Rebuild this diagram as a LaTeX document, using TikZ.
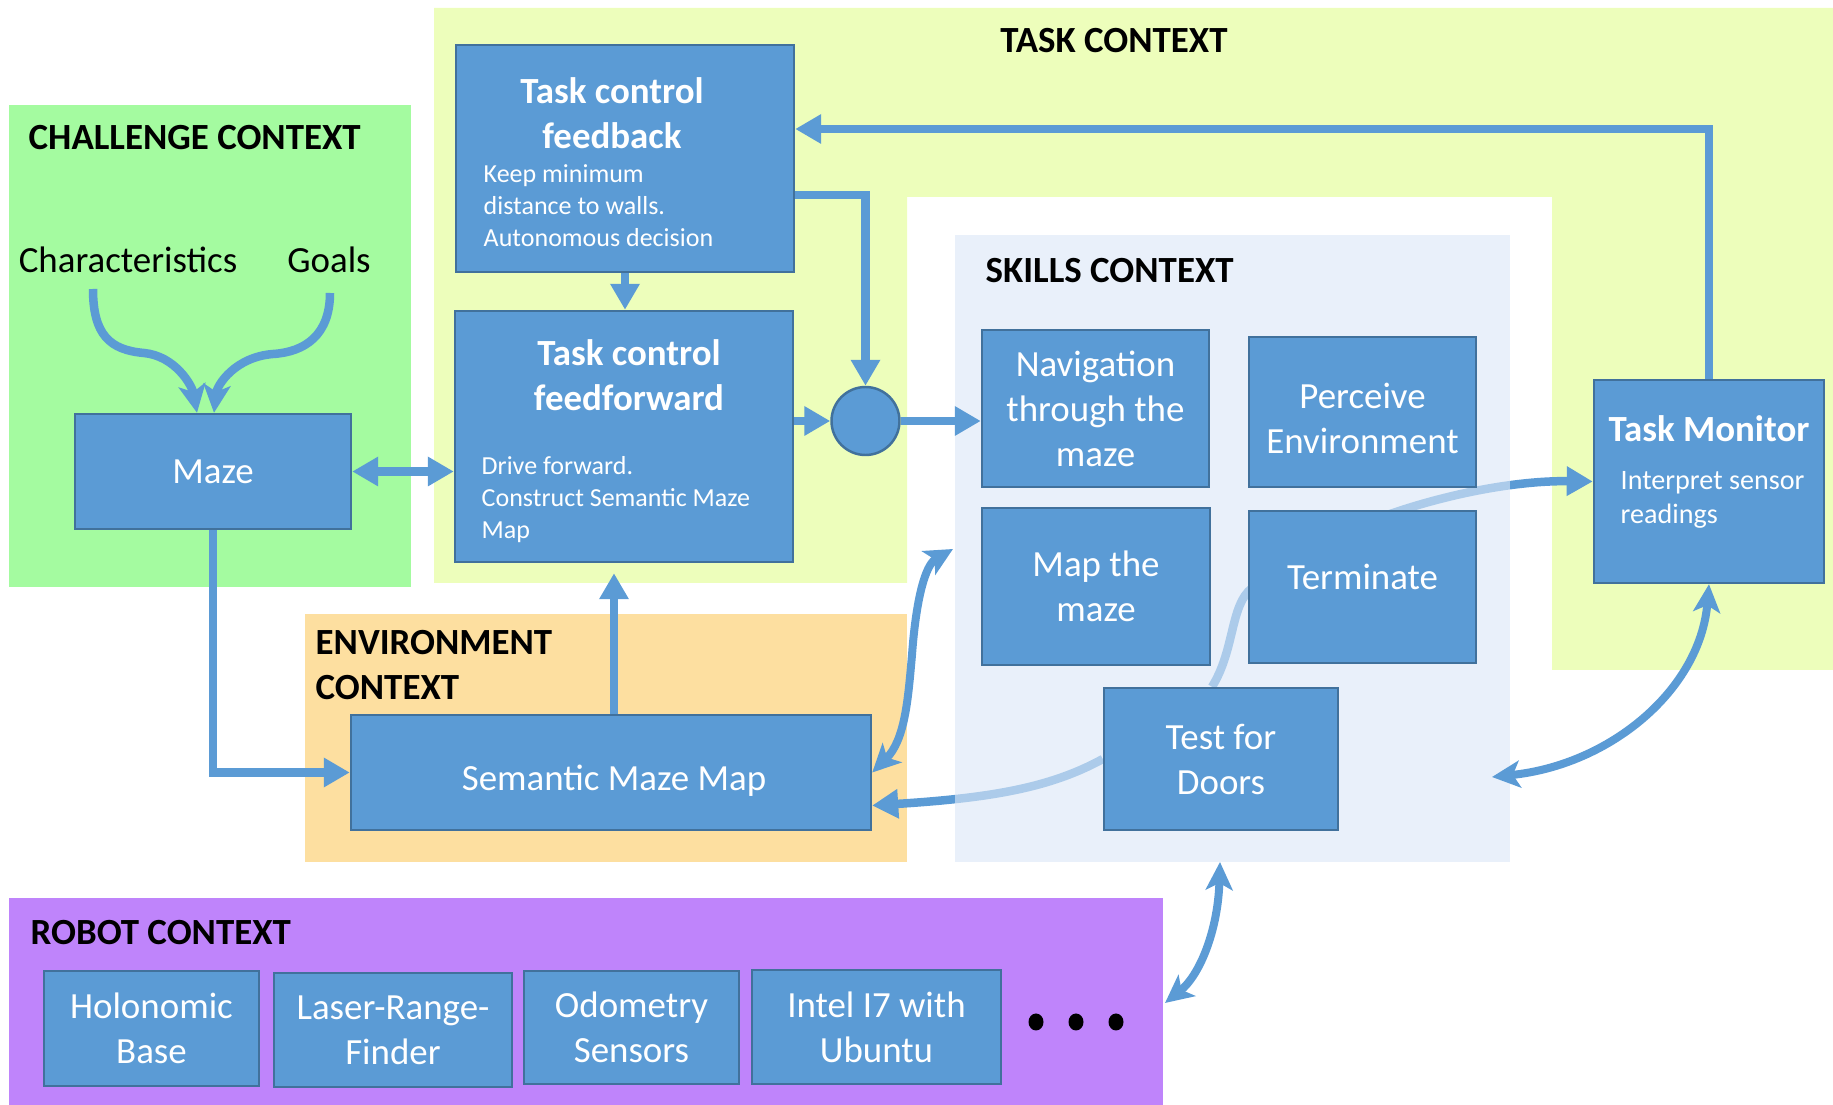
\documentclass[tikz,border=0pt]{standalone}
\usepackage{fontspec}
\setmainfont{Carlito}
\usetikzlibrary{arrows.meta,backgrounds}

\definecolor{boxblue}{HTML}{5B9BD5}
\definecolor{boxedge}{HTML}{41719C}
\definecolor{challengebg}{HTML}{A4FBA0}
\definecolor{taskbg}{HTML}{EDFEBB}
\definecolor{envbg}{HTML}{FDDFA0}
\definecolor{robotbg}{HTML}{BF84FB}
\definecolor{skillsbg}{HTML}{DCE8F7}

\tikzset{
  box/.style={draw=boxedge, line width=0.7pt, fill=boxblue, text=white, inner sep=0pt,
    align=center, font=\fontsize{10.5}{12.8}\selectfont},
  boxtitle/.style={text=white, inner sep=0pt, align=center, font=\fontsize{10.5}{12.8}\selectfont\bfseries},
  boxnote/.style={text=white, inner sep=0pt, anchor=west, align=left, font=\fontsize{7.4}{9.1}\selectfont},
  ctxlabel/.style={inner sep=0pt, anchor=west, align=left, font=\fontsize{10.5}{12.8}\selectfont\bfseries},
  inlabel/.style={inner sep=0pt, font=\fontsize{10.5}{12.8}\selectfont},
  flow/.style={draw=boxblue, line width=0.85mm, -{Triangle[length=2.6mm, width=2.8mm]}},
  flowboth/.style={draw=boxblue, line width=0.85mm, {Triangle[length=2.6mm, width=2.8mm]}-{Triangle[length=2.6mm, width=2.8mm]}},
  curvy/.style={draw=boxblue, line width=0.85mm, -{Stealth[length=2.8mm, width=2.7mm, inset=0.7mm]}},
  curvyboth/.style={draw=boxblue, line width=0.8mm, {Stealth[length=2.8mm, width=2.7mm, inset=0.7mm]}-{Stealth[length=2.8mm, width=2.7mm, inset=0.7mm]}}
}

\begin{document}
\begin{tikzpicture}[x=0.1mm, y=-0.1mm]
    \useasboundingbox (0,0) rectangle (1833,1105);

    % TASK CONTROL
    \node[box, minimum width=33.8mm, minimum height=22.7mm] (fb) at (625,158.5) {};
    \node[boxtitle] (fbtitle) at (612,113) {Task control\\feedback};
    \node[boxnote] (fbnote) at (483,206) {Keep minimum\\distance to walls.\\Autonomous decision};
    \node[box, minimum width=33.8mm, minimum height=25.1mm] (ff) at (624,436.5) {};
    \node[boxtitle] (fftitle) at (629,375) {Task control\\feedforward};
    \node[boxnote] (ffnote) at (481,500) {Drive forward.\\Construct Semantic Maze\\Map};
    \node[circle, draw=boxedge, line width=0.7pt, fill=boxblue, minimum size=6.8mm, inner sep=0pt] (sum) at (865.5,421) {};

    % CHALLENGE
    \node[inlabel] (char) at (128,260) {Characteristics};
    \node[inlabel] (goals) at (329,260) {Goals};
    \node[box, minimum width=27.6mm, minimum height=11.5mm] (maze) at (213,471.5) {Maze};
    \coordinate (charout) at (93,289);
    \coordinate (goalout) at (330,293);

    % ENVIRONMENT
    \node[box, minimum width=52mm, minimum height=11.5mm] (smm) at (611,772.5) {};
    \node[inlabel, text=white] (smmtext) at (614,781) {Semantic Maze Map};

    % SKILLS
    \node[box, minimum width=22.7mm, minimum height=15.7mm] (nav) at (1095.5,408.5) {Navigation\\through the\\maze};
    \node[box, minimum width=22.7mm, minimum height=15mm] (perc) at (1362.5,412) {};
    \node[inlabel, text=white, align=center] (perctext) at (1362.5,418) {Perceive\\Environment};
    \node[box, minimum width=22.8mm, minimum height=15.7mm] (mapm) at (1096,586.5) {Map the\\maze};
    \node[box, minimum width=22.7mm, minimum height=15.2mm] (term) at (1362.5,587) {};
    \node[inlabel, text=white] (termtext) at (1362.5,577) {Terminate};
    \node[box, minimum width=23.4mm, minimum height=14.2mm] (doors) at (1221,759) {Test for\\Doors};
    \coordinate (skillsmap) at (953,549);
    \coordinate (skillsmon) at (1492,777);
    \coordinate (skillsbot) at (1220,862);

    % MONITOR
    \node[box, minimum width=23mm, minimum height=20.3mm] (mon) at (1709,481.5) {};
    \node[boxtitle] (montitle) at (1709,429) {Task Monitor};
    \node[boxnote, font=\fontsize{8}{9.6}\selectfont] (monnote) at (1620,500) {Interpret sensor\\readings};

    % ROBOT
    \node[box, minimum width=21.5mm, minimum height=11.5mm] (hol) at (151.5,1028.5) {Holonomic\\Base};
    \node[box, minimum width=23.8mm, minimum height=11.4mm] (laser) at (393,1030) {Laser-Range-\\Finder};
    \node[box, minimum width=21.5mm, minimum height=11.3mm] (odo) at (631.5,1027.5) {Odometry\\Sensors};
    \node[box, minimum width=24.9mm, minimum height=11.4mm] (intel) at (876.5,1027) {Intel I7 with\\Ubuntu};
    \foreach \x in {1036,1076,1116} {
        \fill[black] (\x,1022) ellipse (7.5 and 8.5);
    }
    \coordinate (robotin) at (1165,1003);

    % CONTEXT LABELS
    \node[ctxlabel, anchor=center] (tasklbl) at (1114,41) {TASK CONTEXT};
    \node[ctxlabel] (challengelbl) at (28,138) {CHALLENGE CONTEXT};
    \node[ctxlabel] (skillslbl) at (985,271) {SKILLS CONTEXT};
    \node[ctxlabel] (envlbl) at (315,665) {ENVIRONMENT\\CONTEXT};
    \node[ctxlabel] (robotlbl) at (30,933) {ROBOT CONTEXT};

    \begin{pgfonlayer}{background}
        % CONTEXT AREAS
        \fill[taskbg] (434,8) -- (1833,8) -- (1833,670) -- (1552,670) -- (1552,197)
            -- (907,197) -- (907,583) -- (434,583) -- cycle;
        \fill[challengebg] (9,105) rectangle (411,587);
        \fill[envbg] (305,614) rectangle (907,862);
        \fill[robotbg] (9,898) rectangle (1163,1105);
        % arrows under the skills layer
        \draw[flow] (doors.west) .. controls (1050,788) and (990,798) .. ([yshift=-3.3mm]smm.east);
        \draw[flow] ([xshift=-0.9mm]doors.north) .. controls (1235,650) and (1230,605) .. (1252,588)
            .. controls (1330,520) and (1480,480) .. (mon.west);
        \fill[skillsbg, opacity=0.63] (955,235) rectangle (1510,862);
    \end{pgfonlayer}

    % CONNECTORS
    \draw[curvy] (charout) .. controls (93,335) and (110,350) .. (144,353)
        .. controls (175,356) and (192,385) .. ([xshift=-1.6mm]maze.north);
    \draw[curvy] (goalout) .. controls (330,335) and (305,352) .. (273,354)
        .. controls (235,357) and (217,385) .. ([xshift=0.1mm]maze.north);
    \draw[flowboth] (maze.east) -- (maze.east -| ff.west);
    \draw[flow] (maze.south) |- (smm.west);
    \draw[flow] ([xshift=0.3mm]smm.north) -- ([xshift=0.3mm, yshift=-1mm]smm.north |- ff.south);
    \draw[flow] (fb.south) -- (fb.south |- ff.north);
    \draw[flow] ([yshift=-3.65mm]fb.east) -| (sum.north);
    \draw[flow] (sum.west -| ff.east) -- (sum.west);
    \draw[flow] (sum.east) -- (sum.east -| nav.west);
    \draw[flow] (mon.north) |- ([yshift=2.95mm]fb.east);
    \draw[curvyboth] (smm.east) .. controls (905,740) and (908,700) .. (912,655)
        .. controls (916,600) and (925,565) .. (skillsmap);
    \draw[curvyboth] (mon.south) .. controls (1700,690) and (1610,765) .. (skillsmon);
    \draw[curvyboth] (skillsbot) .. controls (1218,930) and (1200,975) .. (robotin);

\end{tikzpicture}
\end{document}
